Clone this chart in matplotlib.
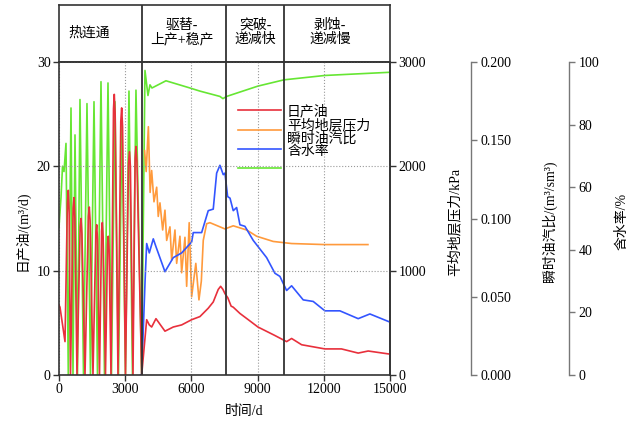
import matplotlib
matplotlib.use('Agg')
import matplotlib.pyplot as plt
from matplotlib.ticker import FormatStrFormatter

plt.rcParams['font.family'] = ['Liberation Serif', 'Noto Sans CJK SC']
plt.rcParams['font.size'] = 10
plt.rcParams['axes.unicode_minus'] = False

# ---- data ----
# daily oil rate, m3/d
oil_t = [0, 45, 272, 380, 421, 460, 521, 640, 680, 720, 815, 960, 997, 1040, 1178, 1330,
         1373, 1410, 1540, 1670, 1708, 1745, 1835, 1930, 1961, 2000, 2106, 2200, 2233,
         2270, 2356, 2470, 2505, 2545, 2673, 2800, 2840, 2880, 3012, 3150, 3194, 3235,
         3352, 3450, 3488, 3530, 3746, 3973, 4092, 4199,
         4394, 4802, 5178, 5558, 6011, 6387, 6763, 6990, 7216, 7325, 7430, 7520, 7650,
         7800, 7896, 8199, 8578, 9015, 9770, 10314, 10541, 10995, 12050, 12800, 13558,
         14011, 15000]
oil = [6.7, 6.5, 3.2, 16.5, 17.7, 15.5, 0, 16.0, 17.0, 15.0, 0, 14.2, 15.0, 13.5, 0, 15.2,
       16.1, 14.8, 0, 13.6, 14.4, 13.0, 0, 13.8, 14.6, 13.2, 0, 12.5, 13.3,
       12.0, 0, 25.5, 26.9, 25.0, 0, 24.3, 25.6, 23.8, 0, 20.3, 21.4, 20.0,
       0, 20.8, 21.9, 20.5, 0, 5.3, 4.8, 4.6,
       5.4, 4.2, 4.6, 4.8, 5.3, 5.6, 6.4, 7.0, 8.2, 8.5, 8.2, 7.8, 7.4,
       6.6, 6.5, 5.9, 5.3, 4.6, 3.8, 3.2, 3.5, 2.9, 2.5, 2.5, 2.1,
       2.3, 2.0]

# average reservoir pressure, kPa
press_t = [3880, 3950, 4050, 4130, 4199, 4304, 4426, 4498, 4575, 4698, 4802, 4879, 5028,
           5105, 5255, 5332, 5481, 5558, 5708, 5785, 5900, 6011, 6200, 6342, 6450, 6537,
           6691, 6840, 7293, 7520, 7896, 8503, 8956, 9708, 10541, 12050, 14000]
press = [2150, 1950, 2380, 1750, 1960, 1660, 1800, 1520, 1650, 1390, 1580, 1290, 1420,
         1100, 1390, 1070, 1330, 980, 1320, 850, 1460, 750, 1070, 720, 900, 1290,
         1450, 1460, 1420, 1400, 1430, 1390, 1330, 1280, 1260, 1250, 1250]

# instantaneous oil-steam ratio, m3/sm3
osr_t = [3700, 3745, 3900, 3973, 4092, 4273, 4394, 4802, 5178, 5558, 6011, 6084, 6464,
         6763, 6990, 7144, 7293, 7443, 7520, 7642, 7750, 7896, 8050, 8199, 8426, 8802,
         9409, 9785, 10011, 10314, 10541, 11067, 11520, 12050, 12729, 13558, 14088, 14963]
osr = [0.0, 0.0, 0.060, 0.084, 0.078, 0.087, 0.082, 0.066, 0.075, 0.078, 0.085, 0.091, 0.091,
       0.105, 0.106, 0.129, 0.134, 0.128, 0.129, 0.114, 0.113, 0.105, 0.107, 0.096, 0.095, 0.086,
       0.075, 0.065, 0.063, 0.054, 0.057, 0.048, 0.047, 0.041, 0.041, 0.036, 0.039, 0.034]

# water cut, %
wc_t = [0, 91, 159, 227, 317, 421, 544, 634, 725, 838, 951, 1110, 1268, 1427, 1586, 1744,
        1903, 2061, 2220, 2378, 2537, 2695, 2854, 3012, 3171, 3329, 3488, 3746, 3896, 4032,
        4122, 4213, 4847, 5934, 6387, 7293, 7429, 7597, 9015, 10193, 12050, 14949]
wc = [47.3, 56.7, 66.7, 65.0, 74.0, 0, 85.3, 0, 76.7, 0, 88.0, 0, 86.7, 0, 87.3, 0,
      93.7, 0, 93.3, 0, 87.3, 0, 81.0, 0, 90.7, 0, 91.0, 0, 97.3, 89.3,
      92.7, 91.7, 94.0, 91.7, 90.7, 89.0, 88.3, 89.0, 92.3, 94.3, 95.7, 96.7]

stage_bounds = [3750, 7550, 10200]
stage_names = ['热连通', '驱替-\n上产+稳产', '突破-\n递减快', '剥蚀-\n递减慢']
stage_centers = [1360, 5570, 8880, 12280]
series_names = ['日产油', '平均地层压力', '瞬时油汽比', '含水率']

frame_c = '#333333'
side_c = '#777777'

fig = plt.figure(figsize=(6.41, 4.21), dpi=100)
ax = fig.add_axes([59 / 641, 46 / 421, 331 / 641, 313 / 421])
ax_h = fig.add_axes([59 / 641, 359 / 421, 331 / 641, 57 / 421])

ax_p = ax.twinx()
ax_o = ax.twinx()
ax_w = ax.twinx()
ax_o.spines['right'].set_position(('axes', 1.244))
ax_w.spines['right'].set_position(('axes', 1.541))

ax_w.set_zorder(1)
ax_p.set_zorder(2)
ax_o.set_zorder(3)
ax.set_zorder(4)
ax.patch.set_visible(False)

l_w, = ax_w.plot(wc_t, wc, color='#66e633', lw=1.2)
l_p, = ax_p.plot(press_t, press, color='#ff9a3c', lw=1.2)
l_o, = ax_o.plot(osr_t, osr, color='#3355ff', lw=1.2)
l_oil, = ax.plot(oil_t, oil, color='#e8303c', lw=1.2)

ax.set_xlim(0, 15000)
ax.set_ylim(0, 30)
ax.set_xticks([0, 3000, 6000, 9000, 12000, 15000])
ax.set_yticks([0, 10, 20, 30])
ax.grid(True, linestyle=':', color='#999999', lw=0.8)
for b in stage_bounds:
    ax.axvline(b, color=frame_c, lw=1.3)
ax.set_xlabel('时间/d', fontsize=10)
ax.xaxis.set_label_coords(0.559, -0.096)
ax.set_ylabel('日产油/(m³/d)', fontsize=10)
ax.yaxis.set_label_coords(-0.088, 0.46)
ax.tick_params(direction='out', length=4, width=1, pad=2, color=frame_c)
for s in ax.spines.values():
    s.set_color(frame_c)
    s.set_linewidth(1.2)

ax_p.set_ylim(0, 3000)
ax_p.set_yticks([0, 1000, 2000, 3000])
ax_p.tick_params(direction='out', length=4, width=1, pad=2, color=frame_c)
ax_p.spines['right'].set_color(frame_c)
ax_p.spines['right'].set_linewidth(1.2)
ax_p.set_ylabel('平均地层压力/kPa', fontsize=10)
ax_p.yaxis.set_label_coords(1.175, 0.49)

ax_o.set_ylim(0, 0.2)
ax_o.set_yticks([0, 0.05, 0.1, 0.15, 0.2])
ax_o.yaxis.set_major_formatter(FormatStrFormatter('%.3f'))
ax_o.set_ylabel('瞬时油汽比/(m³/sm³)', fontsize=10)
ax_o.yaxis.set_label_coords(1.458, 0.49)

ax_w.set_ylim(0, 100)
ax_w.set_yticks([0, 20, 40, 60, 80, 100])
ax_w.set_ylabel('含水率/%', fontsize=10)
ax_w.yaxis.set_label_coords(1.680, 0.49)

for a in (ax_p, ax_o, ax_w):
    for side in ('left', 'top', 'bottom'):
        a.spines[side].set_visible(False)
for a in (ax_o, ax_w):
    a.spines['right'].set_color(side_c)
    a.spines['right'].set_linewidth(1.0)
    a.tick_params(direction='out', length=4, width=1, pad=3, color=side_c)

# stage header
ax_h.set_xlim(0, 15000)
ax_h.set_ylim(0, 1)
ax_h.set_xticks([])
ax_h.set_yticks([])
for s in ax_h.spines.values():
    s.set_color(frame_c)
    s.set_linewidth(1.2)
for b in stage_bounds:
    ax_h.axvline(b, color=frame_c, lw=1.3)
for xc, name in zip(stage_centers, stage_names):
    ax_h.text(xc, 0.52, name, ha='center', va='center', fontsize=10, linespacing=1.1)

# legend: handles and names set side by side
leg = ax.legend([l_oil, l_p, l_o, l_w], [' '] * 4, loc='upper left',
                bbox_to_anchor=(0.541, 0.862), frameon=False, handlelength=3.1,
                labelspacing=0.45, borderpad=0, borderaxespad=0, handletextpad=0.2)
ax.text(0.689, 0.864, '\n'.join(series_names), transform=ax.transAxes,
        ha='left', va='top', fontsize=10, linespacing=1.0)

fig.savefig('out.png', dpi=100, facecolor='white')
